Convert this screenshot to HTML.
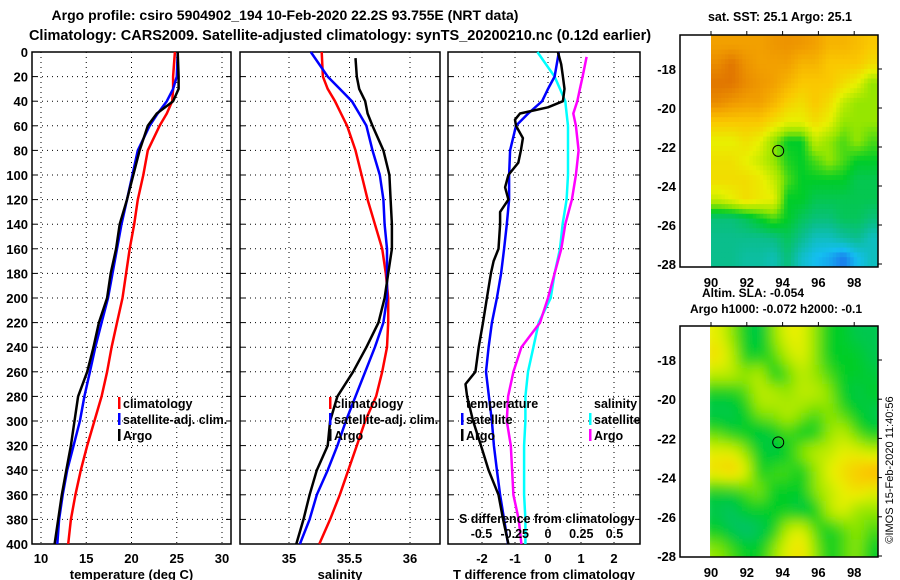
<!DOCTYPE html>
<html><head><meta charset="utf-8"><style>
html,body{margin:0;padding:0;background:#fff;}
svg{display:block;font-family:"Liberation Sans",sans-serif;font-weight:bold;}
</style></head><body>
<svg id="chart" width="900" height="580" viewBox="0 0 900 580" xmlns="http://www.w3.org/2000/svg">
<defs>
<filter id="blur" x="0" y="0" width="1" height="1"><feGaussianBlur stdDeviation="5"/></filter>
<clipPath id="clipTop"><rect x="710" y="35" width="168" height="232"/></clipPath>
<clipPath id="clipBot"><rect x="710" y="326" width="168" height="231"/></clipPath>
</defs>
<text x="285" y="20" font-size="14" text-anchor="middle">Argo profile: csiro 5904902_194 10-Feb-2020 22.2S 93.755E (NRT data)</text>
<text x="340" y="40" font-size="14.5" text-anchor="middle">Climatology: CARS2009. Satellite-adjusted climatology: synTS_20200210.nc (0.12d earlier)</text>
<g id="g"></g>
<text x="780" y="21" font-size="12.5" text-anchor="middle">sat. SST: 25.1 Argo: 25.1</text>
<text x="753" y="297" font-size="12" text-anchor="middle">Altim. SLA: -0.054</text>
<text x="776" y="313" font-size="12" text-anchor="middle">Argo h1000: -0.072 h2000: -0.1</text>
<text x="0" y="0" font-size="11" font-weight="normal" text-anchor="middle" transform="translate(893,470) rotate(-90)">©IMOS 15-Feb-2020 11:40:56</text>
</svg>
<script>
// ---- profile data ----
const depths = [0,20,30,40,50,60,80,100,120,140,160,180,200,220,240,260,280,300,320,340,360,380,400];
const tempClim = [24.8,24.6,24.6,24.5,23.9,23.1,21.8,21.3,20.7,20.3,19.8,19.4,19.0,18.4,17.8,17.3,16.7,15.9,15.1,14.4,13.8,13.3,13.0];
const tempSat  = [25.1,25.0,24.6,23.9,22.9,22.0,20.7,20.1,19.5,18.9,18.4,17.9,17.4,16.7,16.0,15.4,14.8,14.3,13.6,12.9,12.4,12.0,11.8];
const tempArgo = [25.1,25.2,25.2,24.6,22.8,21.8,20.9,20.2,19.5,18.7,18.3,17.7,17.3,16.4,15.8,15.1,14.1,13.7,13.3,12.8,12.3,11.9,11.5];
const salClim = [35.27,35.28,35.32,35.38,35.43,35.48,35.55,35.60,35.65,35.71,35.77,35.80,35.82,35.82,35.81,35.77,35.72,35.63,35.56,35.49,35.42,35.34,35.25];
const salSat  = [35.18,35.32,35.42,35.52,35.58,35.64,35.69,35.75,35.78,35.79,35.81,35.81,35.81,35.78,35.71,35.63,35.55,35.47,35.40,35.32,35.23,35.17,35.09];
const salArgoDepths = [5,20,30,40,50,60,80,100,120,140,160,180,200,220,240,260,280,300,320,340,360,380,400];
const salArgo = [35.55,35.56,35.58,35.63,35.65,35.69,35.78,35.83,35.84,35.85,35.85,35.82,35.79,35.74,35.64,35.53,35.40,35.34,35.32,35.23,35.17,35.12,35.06];
const tdiffSat = [0.33,0.2,0.0,-0.18,-0.6,-0.97,-1.15,-1.18,-1.18,-1.25,-1.33,-1.42,-1.55,-1.7,-1.8,-1.88,-1.79,-1.7,-1.64,-1.55,-1.45,-1.33,-1.21];
const tdiffArgoDepths = [0,10,20,30,40,45,50,55,60,70,80,90,100,110,120,130,140,160,170,180,200,220,240,260,270,280,300,320,340,360,380,400];
const tdiffArgo = [0.3,0.4,0.45,0.5,0.45,0,-0.85,-1.0,-0.97,-0.76,-0.82,-0.9,-1.2,-1.3,-1.2,-1.45,-1.45,-1.5,-1.65,-1.73,-1.85,-1.97,-2.1,-2.2,-2.5,-2.45,-2.27,-2.03,-1.8,-1.5,-1.36,-1.2];
const sdiffSat = [-0.08,0.05,0.09,0.13,0.14,0.15,0.15,0.15,0.14,0.11,0.09,0.05,0.02,-0.07,-0.11,-0.15,-0.17,-0.17,-0.18,-0.18,-0.18,-0.17,-0.17];
const sdiffArgoDepths = [4,20,30,40,50,60,80,100,120,140,160,180,200,220,240,260,280,300,320,340,360,380,400];
const sdiffArgo = [0.29,0.26,0.24,0.22,0.19,0.21,0.23,0.21,0.18,0.13,0.10,0.05,0,-0.06,-0.2,-0.26,-0.3,-0.31,-0.28,-0.27,-0.26,-0.22,-0.2];
const depthTicks = [0,20,40,60,80,100,120,140,160,180,200,220,240,260,280,300,320,340,360,380,400];
const tempTicks = [10,15,20,25,30];
const salTicks = [35,35.5,36];
const tdiffTicks = [-2,-1,0,1,2];
const sdiffTicks = [-0.5,-0.25,0,0.25,0.5];
const sdiffTickLabels = ["-0.5","-0.25","0","0.25","0.5"];
// ---- map data (colour index 0=blue .. 8=dark orange) ----
const mapLons = [90,99.33];
const mapLats = [-16.26,-28.15];
const sstGrid = [
[7,7,7,7,7.2,7.3,7.2,7,6.5,6.5,6.3,6],
[7.5,8,7.3,7,7,7,6.5,6.5,6,6,6,5.5],
[8,8,7.5,7.2,7,6.5,6,6,6,5.5,5,4],
[7.5,7.2,7,7,6.5,5.8,5.5,6,5.5,4.5,4,4],
[6,6,6,6,5.5,5,5,5.5,5,4,4,4],
[5,5,5.4,5,4,3,3,4.5,4,3.5,4,3.5],
[5.4,5.4,5,4.6,4,3.2,3,3.5,4,3.5,3,3],
[5.5,5.5,5.5,5.2,4.6,3.5,3,3,3,3,2.6,2.6],
[4.6,5,5.5,5.2,5,3,3,2.6,2.6,2.6,2.6,2.6],
[2.2,2.2,2.5,3,3.5,3,2.5,2.2,2.2,2.5,2.5,2.2],
[2,2,2,2,2.1,2.5,2,1.5,1.5,1.8,2,1.5],
[2,2,1.8,1.8,1.6,2.2,1.4,1,0.8,0.4,1,1.5]];
const slaGrid = [
[5,4,3,2.6,4,5,5,4,3,3,2.6,2.6],
[5.5,4.5,3,3,3.5,4.5,5,4,3,3,3,2.6],
[4.5,4.5,4,4.5,3,3.5,4.5,4,3.5,3,3,2.8],
[3,3,3.5,4.5,4.5,4,4.5,4.5,4,3,2.6,3],
[2.6,2.6,3,4,4,4.5,4,3.5,4,3.5,3,2.6],
[3.5,3,3,2.6,3,3.5,3,3,4,4.5,3.5,3],
[5,5,4,3,2.6,3,4,4.5,4.5,5,5,4.5],
[5.5,6,5,3,3.5,3.5,3,4,5,5.5,6,6.5],
[3,3,3.5,4,3,3,3,4,4.5,5,5.5,5],
[2.6,2.4,3,3,3,3,2.6,3,4.5,5,4,4],
[3,2.5,2.2,2.5,3,4.5,5,3.5,3,3.5,4,3.5],
[4,3.5,3,3,4,5,5.5,4,3,3.5,4,3]];
const lonTicks = [90,92,94,96,98];
const latTicks = [-18,-20,-22,-24,-26,-28];
const argoLon = 93.755, argoLat = -22.2;

const NS = "http://www.w3.org/2000/svg";
const G = document.getElementById('g');
function mk(tag, attrs, parent){const e=document.createElementNS(NS,tag);for(const k in attrs)e.setAttribute(k,attrs[k]);(parent||G).appendChild(e);return e;}
const Y0=52, YS=(544-52)/400;
function yD(d){return Y0+d*YS;}
const panels=[
 {x0:32,x1:231,sx:v=>41+(v-10)*9.05,ticks:tempTicks,labels:tempTicks.map(String),title:"temperature (deg C)",name:"temperature-panel"},
 {x0:240,x1:440,sx:v=>289+(v-35)*121,ticks:salTicks,labels:["35","35.5","36"],title:"salinity",name:"salinity-panel"},
 {x0:448,x1:640,sx:v=>548+v*33,ticks:tdiffTicks,labels:tdiffTicks.map(String),title:"T difference from climatology",name:"difference-panel"}];
const sdX=v=>548+v*133;
panels.forEach((p,pi)=>{
  const grp=mk('g',{});
  
  
  depthTicks.forEach(d=>{if(d>0&&d<400){const l=mk('line',{x1:p.x0,x2:p.x1,y1:yD(d),y2:yD(d),stroke:'#000','stroke-width':1,'stroke-dasharray':'1 4'},grp);
    
    }
    const t1=mk('line',{x1:p.x0,x2:p.x0+5,y1:yD(d),y2:yD(d),stroke:'#000'},grp);
    
    
    const t2=mk('line',{x1:p.x1-5,x2:p.x1,y1:yD(d),y2:yD(d),stroke:'#000'},grp);
    
    
  });
  p.ticks.forEach((v,i)=>{const x=p.sx(v);
    const l=mk('line',{x1:x,x2:x,y1:Y0,y2:544,stroke:'#000','stroke-width':1,'stroke-dasharray':'1 4'},grp);
    
    
    const t=mk('text',{x:x,y:563,'font-size':13,'text-anchor':'middle'},grp);t.textContent=p.labels[i];
    
    
  });
  const ti=mk('text',{x:(p.x0+p.x1)/2,y:579,'font-size':13,'text-anchor':'middle'},grp);ti.textContent=p.title;
  
  
  const fr=mk('rect',{x:p.x0,y:Y0,width:p.x1-p.x0,height:544-Y0,fill:'none',stroke:'#000','stroke-width':1.5},grp);
  
  
});
depthTicks.forEach(d=>{const t=mk('text',{x:28,y:yD(d)+5,'font-size':13,'text-anchor':'end'});t.textContent=String(d);
  
  });
function line(ds,vs,sx,color,name){const pts=ds.map((d,i)=>sx(vs[i]).toFixed(1)+','+yD(d).toFixed(1)).join(' ');
  const e=mk('polyline',{points:pts,fill:'none',stroke:color,'stroke-width':2.5,'stroke-linejoin':'round'});
  
  }
const P=panels;
line(depths,tempClim,P[0].sx,'#ff0000','temperature-climatology-line');
line(depths,tempSat,P[0].sx,'#0000ff','temperature-satellite-line');
line(depths,tempArgo,P[0].sx,'#000000','temperature-argo-line');
line(depths,salClim,P[1].sx,'#ff0000','salinity-climatology-line');
line(depths,salSat,P[1].sx,'#0000ff','salinity-satellite-line');
line(salArgoDepths,salArgo,P[1].sx,'#000000','salinity-argo-line');
line(depths,sdiffSat,sdX,'#00ffff','salinity-diff-satellite-line');
line(sdiffArgoDepths,sdiffArgo,sdX,'#ff00ff','salinity-diff-argo-line');
line(depths,tdiffSat,P[2].sx,'#0000ff','temperature-diff-satellite-line');
line(tdiffArgoDepths,tdiffArgo,P[2].sx,'#000000','temperature-diff-argo-line');
function leg(x,y,color,label){
  if(color){const r=mk('rect',{x:x,y:y-11,width:2.5,height:12,fill:color});
    
    }
  const t=mk('text',{x:x+5,y:y,'font-size':12.5});t.textContent=label;
  
  }
leg(118,408,'#ff0000','climatology');leg(118,424,'#0000ff','satellite-adj. clim.');leg(118,440,'#000','Argo');
leg(329,408,'#ff0000','climatology');leg(329,424,'#0000ff','satellite-adj. clim.');leg(329,440,'#000','Argo');
leg(461,408,null,'temperature');leg(461,424,'#0000ff','satellite');leg(461,440,'#000','Argo');
leg(589,408,null,'salinity');leg(589,424,'#00ffff','satellite');leg(589,440,'#ff00ff','Argo');
{const t=mk('text',{x:459,y:523,'font-size':12.5});t.textContent='S difference from climatology';
 
 }
sdiffTicks.forEach((v,i)=>{const t=mk('text',{x:sdX(v),y:538,'font-size':12.5,'text-anchor':'middle'});t.textContent=sdiffTickLabels[i];
 
 });
// maps
const stops=[[30,80,235],[20,190,240],[10,190,140],[0,205,40],[150,230,0],[232,240,0],[250,200,0],[242,160,0],[225,118,0]];
function col(v){const i=Math.max(0,Math.min(7.999,v));const a=Math.floor(i),f=i-a;const c=stops[a],d=stops[a+1];
  return 'rgb('+c.map((x,k)=>Math.round(x+(d[k]-x)*f)).join(',')+')';}
function sample(grid,fr,fc){ // bilinear sample in grid index space (cell centres)
  const nr=grid.length,nc=grid[0].length;
  const r=Math.max(0,Math.min(nr-1,fr)),c=Math.max(0,Math.min(nc-1,fc));
  const r0=Math.floor(r),c0=Math.floor(c),r1=Math.min(nr-1,r0+1),c1=Math.min(nc-1,c0+1);
  const a=r-r0,b=c-c0;
  return grid[r0][c0]*(1-a)*(1-b)+grid[r0][c1]*(1-a)*b+grid[r1][c0]*a*(1-b)+grid[r1][c1]*a*b;
}
function drawMap(grid,fy0,fy1,clip,blur,name,latY,sub){
  const lx=lon=>711+(lon-90)*17.9;
  const ly=lat=>latY(lat);
  const grp=mk('g',{'clip-path':'url(#'+clip+')'});
  
  
  const inner=mk('g',blur?{filter:'url(#blur)'}:{},grp);
  const nr=grid.length*sub,nc=grid[0].length*sub;
  const w=(mapLons[1]-mapLons[0])/nc,h=(mapLats[0]-mapLats[1])/nr;
  for(let r=0;r<nr;r++)for(let c=0;c<nc;c++){
    const v=sample(grid,(r+0.5)/sub-0.5,(c+0.5)/sub-0.5);
    const x=lx(mapLons[0]+c*w),y=ly(mapLats[0]-r*h);
    const pad=blur?8:0;
    const x2=lx(mapLons[0]+(c+1)*w),y2=ly(mapLats[0]-(r+1)*h);
    const cell=mk('rect',{x:x-(c==0?pad:0),y:y-(r==0?pad:0),width:x2-x+0.6+((c==0||c==nc-1)?pad:0),height:y2-y+0.6+((r==0||r==nr-1)?pad:0),fill:col(v)},inner);
    
    
  }
  const fr=mk('rect',{x:680,y:fy0,width:198,height:fy1-fy0,fill:'none',stroke:'#000','stroke-width':1.5});
  
  
  latTicks.forEach(l=>{const y=ly(l);
    const t=mk('text',{x:676,y:y+5,'font-size':13,'text-anchor':'end'});t.textContent=String(l);
    
    
    const tk=mk('line',{x1:878,x2:882,y1:y,y2:y,stroke:'#000'});
    
    });
  lonTicks.forEach(l=>{const x=lx(l);
    const t=mk('text',{x:x,y:fy1+20,'font-size':13,'text-anchor':'middle'});t.textContent=String(l);
    
    
    const tk=mk('line',{x1:x,x2:x,y1:fy0-4,y2:fy0,stroke:'#000'});
    
    });
  const c=mk('circle',{cx:lx(argoLon),cy:ly(argoLat),r:5.5,fill:'none',stroke:'#000','stroke-width':1});
  
  
}
drawMap(sstGrid,35,267,'clipTop',false,'sst-map',lat=>69+(-18-lat)*19.5,4);
drawMap(slaGrid,326,557,'clipBot',true,'sla-map',lat=>360+(-18-lat)*19.6,2);
</script>
</body></html>
